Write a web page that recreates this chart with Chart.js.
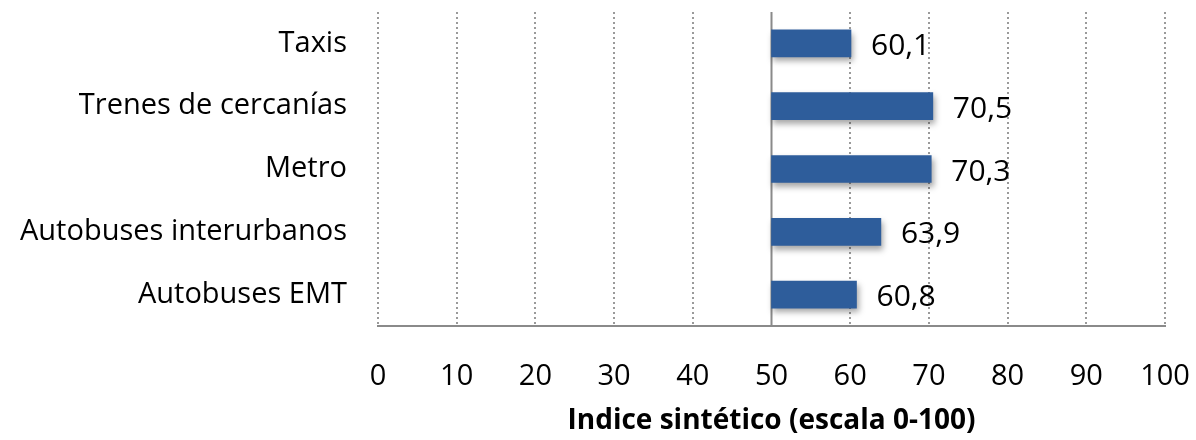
<!DOCTYPE html>
<html>
<head>
<meta charset="utf-8">
<script src="https://cdn.jsdelivr.net/npm/chart.js@4/dist/chart.umd.min.js"></script>
<style>
  html, body { margin: 0; padding: 0; background: #fff; }
  #wrap { width: 1196px; height: 440px; }
</style>
</head>
<body>
<div id="wrap"><canvas id="chart"></canvas></div>
<script>
"use strict";

const categories = [
  "Taxis",
  "Trenes de cercanías",
  "Metro",
  "Autobuses interurbanos",
  "Autobuses EMT",
];
const values = [60.1, 70.5, 70.3, 63.9, 60.8];
const baseline = 50;
const xTicks = [0, 10, 20, 30, 40, 50, 60, 70, 80, 90, 100];
const axisTitle = "Indice sintético (escala 0-100)";

const fontFamily = "'Open Sans', Lato, sans-serif";
const barColor = "#2e5d9b";
const lineColor = "#8a8a8a";

function noAutoPadding(scale) {
  scale.paddingTop = 0;
  scale.paddingBottom = 0;
  scale.paddingLeft = 0;
  scale.paddingRight = 0;
}

const decorations = {
  id: "decorations",
  beforeDatasetsDraw(chart) {
    const { ctx, chartArea, scales } = chart;
    const x = scales.x.getPixelForValue(baseline);
    ctx.save();
    ctx.strokeStyle = lineColor;
    ctx.lineWidth = 2;
    ctx.beginPath();
    ctx.moveTo(x, chartArea.top);
    ctx.lineTo(x, chartArea.bottom);
    ctx.stroke();
    ctx.restore();
    // soft shadow below the bars
    ctx.save();
    ctx.shadowColor = "rgba(0,0,0,0.35)";
    ctx.shadowBlur = 6;
    ctx.shadowOffsetX = 2;
    ctx.shadowOffsetY = 4;
  },
  afterDatasetsDraw(chart) {
    const { ctx } = chart;
    ctx.restore();
    const meta = chart.getDatasetMeta(0);
    ctx.save();
    ctx.fillStyle = "#000";
    ctx.font = "30px " + fontFamily;
    ctx.textAlign = "left";
    ctx.textBaseline = "middle";
    meta.data.forEach((bar, i) => {
      const label = values[i].toFixed(1).replace(".", ",");
      ctx.fillText(label, bar.x + 20, bar.y + 3);
    });
    ctx.restore();
  },
};

new Chart(document.getElementById("chart"), {
  type: "bar",
  data: {
    labels: categories,
    datasets: [
      {
        data: values.map((v) => [baseline, v]),
        backgroundColor: barColor,
        borderWidth: 0,
        barThickness: 27,
      },
    ],
  },
  options: {
    indexAxis: "y",
    responsive: true,
    maintainAspectRatio: false,
    animation: false,
    layout: {
      autoPadding: false,
      padding: { top: 12, right: 31, left: 0, bottom: 0 },
    },
    plugins: {
      legend: { display: false },
      tooltip: { enabled: false },
    },
    scales: {
      x: {
        type: "linear",
        min: 0,
        max: 100,
        afterBuildTicks: (scale) => {
          scale.ticks = xTicks.map((v) => ({ value: v }));
        },
        afterFit: (scale) => {
          scale.height = 114;
          noAutoPadding(scale);
        },
        grid: {
          drawTicks: false,
          color: (ctx) =>
            ctx.tick && ctx.tick.value === baseline ? "transparent" : "#9a9a9a",
          lineWidth: 2,
        },
        border: {
          display: true,
          color: lineColor,
          width: 2,
          dash: [2, 3],
        },
        ticks: {
          color: "#000",
          padding: 33,
          font: { family: fontFamily, size: 29 },
        },
        title: {
          display: true,
          text: axisTitle,
          color: "#000",
          padding: { top: 0, bottom: 2 },
          font: { family: fontFamily, size: 28, weight: "bold" },
        },
      },
      y: {
        afterFit: (scale) => {
          scale.width = 378;
          noAutoPadding(scale);
        },
        grid: { display: false, drawTicks: false },
        border: { display: false },
        ticks: {
          color: "#000",
          padding: 31,
          font: { family: fontFamily, size: 29 },
        },
      },
    },
  },
  plugins: [decorations],
});
</script>
</body>
</html>
